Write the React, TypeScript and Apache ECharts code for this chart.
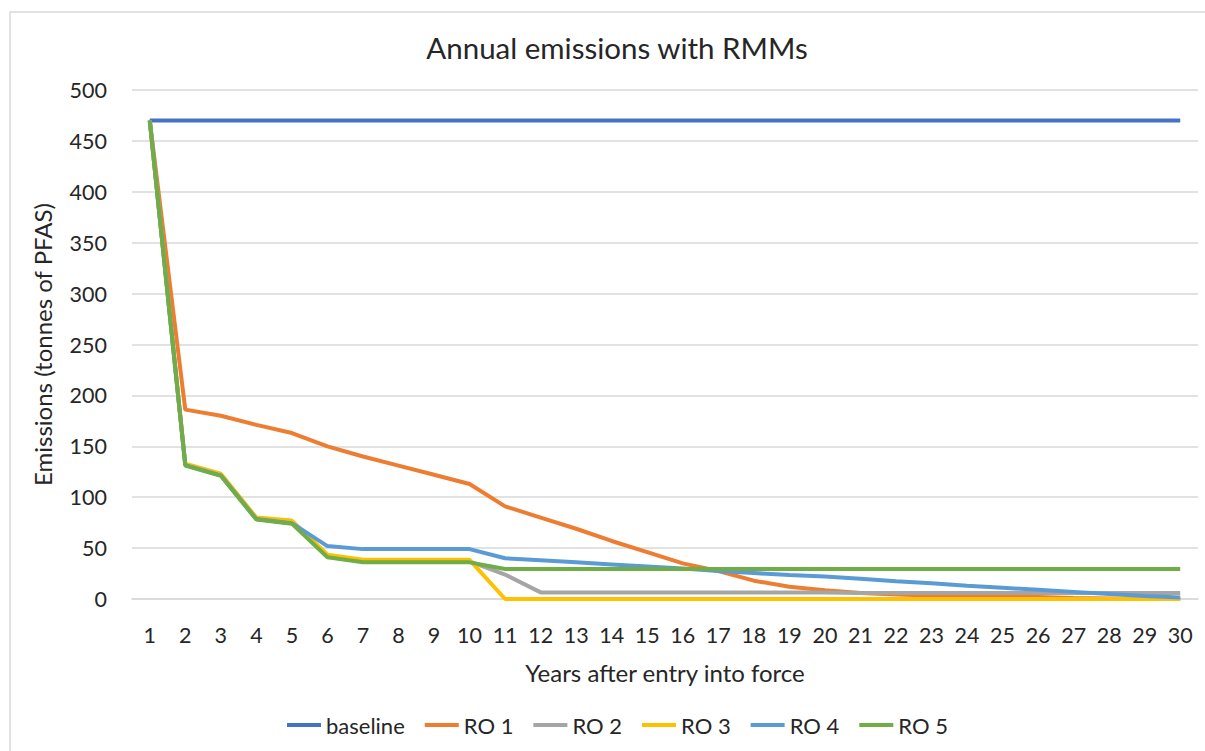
import React, { useEffect, useRef } from "react";
import * as echarts from "echarts";

const years = Array.from({ length: 30 }, (_, i) => String(i + 1));

const baseline = [470, 470, 470, 470, 470, 470, 470, 470, 470, 470, 470, 470, 470, 470, 470, 470, 470, 470, 470, 470, 470, 470, 470, 470, 470, 470, 470, 470, 470, 470];
const ro1 = [470, 186, 180, 171, 163, 150, 140, 131, 122, 113, 91, 80, 69, 57, 46, 35, 27.5, 18, 12, 8.5, 6, 4.5, 3.5, 3, 2.5, 2, 1, 0.5, 0, 0];
const ro2 = [470, 131.5, 121.5, 78.5, 74.5, 42, 37, 37, 37, 37, 24, 6.5, 6.5, 6.5, 6.5, 6.5, 6.5, 6.5, 6.5, 6.5, 6, 6, 6, 6, 6, 6, 6, 6, 6, 6];
const ro3 = [470, 133, 123, 80, 77, 43.5, 38.5, 38.5, 38.5, 38.5, 0, 0, 0, 0, 0, 0, 0, 0, 0, 0, 0, 0, 0, 0, 0, 0, 0, 0, 0, 0];
const ro4 = [470, 131.5, 121.5, 78.5, 74.5, 52, 49, 49, 49, 49, 40, 38, 36, 34, 32, 30, 27.5, 25.5, 23.5, 22, 20, 17.5, 15.5, 13, 11, 9, 7, 5, 3, 1.5];
const ro5 = [470, 131, 121, 78, 74, 41, 36, 36, 36, 36, 29.5, 29.5, 29.5, 29.5, 29.5, 29.5, 29.5, 29.5, 29.5, 29.5, 29.5, 29.5, 29.5, 29.5, 29.5, 29.5, 29.5, 29.5, 29.5, 29.5];

const seriesNames = ["baseline", "RO 1", "RO 2", "RO 3", "RO 4", "RO 5"];
const seriesData = [baseline, ro1, ro2, ro3, ro4, ro5];
const colors = ["#4472C4", "#ED7D31", "#A5A5A5", "#FFC000", "#5B9BD5", "#70AD47"];

const FONT = "Lato";
const TXT = "#262626";

export default function App() {
  const ref = useRef<HTMLDivElement>(null);
  useEffect(() => {
    if (!ref.current) return;
    const chart = echarts.init(ref.current, null, { renderer: "svg" });
    chart.setOption({
      animation: false,
      backgroundColor: "#ffffff",
      color: colors,
      textStyle: { fontFamily: FONT, color: TXT },
      title: {
        text: "Annual emissions with RMMs",
        left: 612,
        textAlign: "center",
        top: 27,
        textStyle: { fontFamily: FONT, fontSize: 29.5, fontWeight: "normal", color: TXT },
      },
      graphic: [
        {
          type: "rect",
          shape: { x: 10, y: 12, width: 1230, height: 770 },
          style: { fill: "none", stroke: "#d9d9d9", lineWidth: 1.5 },
          silent: true,
        },
      ],
      legend: {
        data: seriesNames,
        bottom: 10,
        left: 282,
        icon: "rect",
        itemWidth: 34,
        itemHeight: 4,
        itemGap: 20,
        textStyle: { fontFamily: FONT, fontSize: 22, color: TXT },
      },
      grid: { left: 132, right: 7, top: 90, bottom: 152 },
      xAxis: {
        type: "category",
        data: years,
        boundaryGap: true,
        name: "Years after entry into force",
        nameLocation: "middle",
        nameGap: 61,
        nameTextStyle: { fontFamily: FONT, fontSize: 24, color: TXT },
        axisLine: { lineStyle: { color: "#d9d9d9", width: 1.5 } },
        axisTick: { show: false },
        axisLabel: { fontFamily: FONT, fontSize: 21.5, color: TXT, margin: 25, interval: 0 },
      },
      yAxis: {
        type: "value",
        min: 0,
        max: 500,
        interval: 50,
        name: "Emissions (tonnes of PFAS)",
        nameLocation: "middle",
        nameGap: 78,
        nameTextStyle: { fontFamily: FONT, fontSize: 24, color: TXT },
        axisLine: { show: false },
        axisTick: { show: false },
        axisLabel: { fontFamily: FONT, fontSize: 21.5, color: TXT, margin: 25 },
        splitLine: { lineStyle: { color: "#d9d9d9", width: 1.5 } },
      },
      series: seriesNames.map((name, i) => ({
        name,
        type: "line",
        data: seriesData[i],
        symbol: "none",
        lineStyle: { width: 4, color: colors[i] },
        itemStyle: { color: colors[i] },
      })),
    });
    return () => chart.dispose();
  }, []);
  return (
    <div
      ref={ref}
      style={{ position: "absolute", left: 0, top: 0, width: 1205, height: 751 }}
    />
  );
}
